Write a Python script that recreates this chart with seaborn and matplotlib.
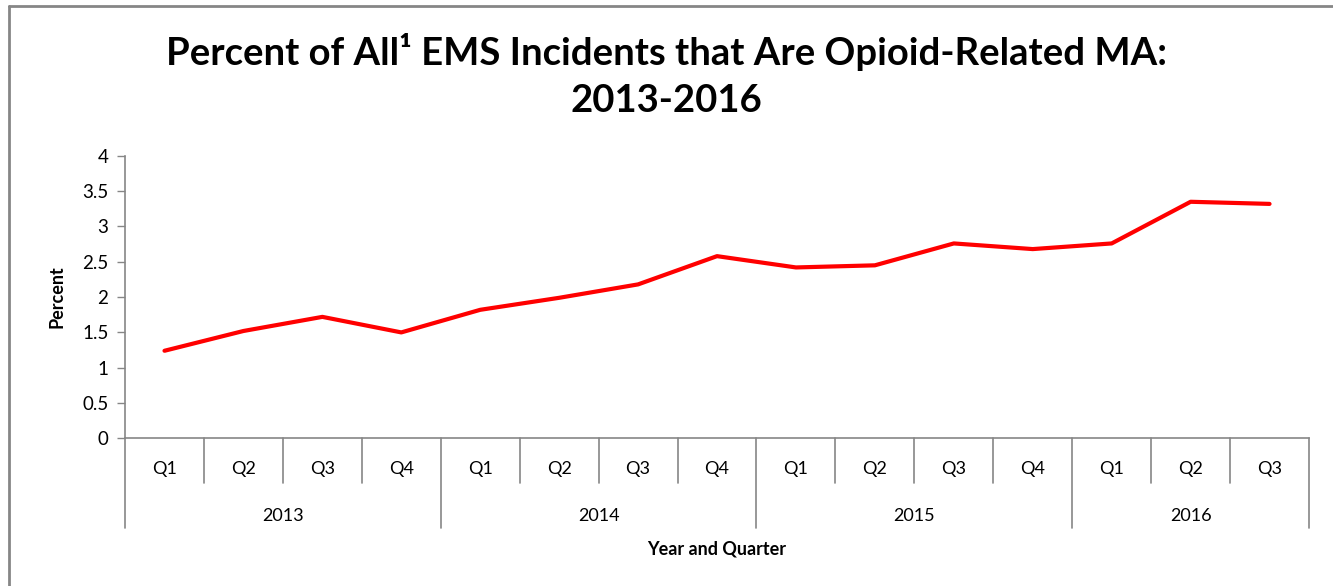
import numpy as np
import pandas as pd
import matplotlib
matplotlib.use("Agg")
import matplotlib.pyplot as plt
import matplotlib.transforms as mtransforms
from matplotlib.lines import Line2D
import seaborn as sns

# data
years = ["2013", "2014", "2015", "2016"]
quarters = ["Q1", "Q2", "Q3", "Q4", "Q1", "Q2", "Q3", "Q4",
            "Q1", "Q2", "Q3", "Q4", "Q1", "Q2", "Q3"]
quarter_years = ["2013"] * 4 + ["2014"] * 4 + ["2015"] * 4 + ["2016"] * 3
percent = [1.24, 1.52, 1.72, 1.50, 1.82, 1.99, 2.18, 2.58,
           2.42, 2.45, 2.76, 2.68, 2.76, 3.35, 3.32]
y_ticks = [0, 0.5, 1, 1.5, 2, 2.5, 3, 3.5, 4]

df = pd.DataFrame({"year": quarter_years, "quarter": quarters, "percent": percent})
df["pos"] = np.arange(len(df))

sns.set_style("white")
plt.rcParams["font.family"] = ["Lato", "DejaVu Sans"]
plt.rcParams["text.color"] = "black"
plt.rcParams["axes.labelcolor"] = "black"
plt.rcParams["ytick.color"] = "black"

fig = plt.figure(figsize=(13.33, 5.86), dpi=100)
ax = fig.add_axes([0.0938, 0.252, 0.8882, 0.482])

sns.lineplot(data=df, x="pos", y="percent", color="#FF0000", linewidth=3.0,
             ax=ax, solid_capstyle="round", solid_joinstyle="round")

grey = "#868686"
ax.set_xlim(-0.5, len(df) - 0.5)
ax.set_ylim(0, 4)
ax.set_yticks(y_ticks)
ax.set_yticklabels([f"{t:g}" for t in y_ticks], fontsize=13.5)
ax.set_xticks([])
ax.tick_params(axis="y", direction="out", length=6, width=1, color=grey,
               labelcolor="black", left=True, pad=6)
for side in ["top", "right"]:
    ax.spines[side].set_visible(False)
for side in ["left", "bottom"]:
    ax.spines[side].set_color(grey)
    ax.spines[side].set_linewidth(1.2)

ax.set_xlabel("")
ax.set_ylabel("Percent", fontsize=13, fontweight="bold", labelpad=12)

# two-level category axis
trans = mtransforms.blended_transform_factory(ax.transData, ax.transAxes)
year_edges = [-0.5]
for y in years:
    year_edges.append(year_edges[-1] + quarter_years.count(y))
for b in np.arange(-0.5, len(df), 1.0):
    low = -0.317 if b in year_edges else -0.158
    ax.add_line(Line2D([b, b], [0, low], transform=trans, color=grey,
                       linewidth=1.2, clip_on=False))
for i, q in enumerate(quarters):
    ax.text(i, -0.108, q, transform=trans, ha="center", va="center",
            fontsize=13, color="black")
for y, a, b in zip(years, year_edges[:-1], year_edges[1:]):
    ax.text((a + b) / 2, -0.275, y, transform=trans, ha="center", va="center",
            fontsize=13, color="black")
ax.text(0.5, -0.392, "Year and Quarter", transform=ax.transAxes, ha="center",
        va="center", fontsize=13, fontweight="bold")

fig.text(0.5, 0.912, "Percent of All\u00b9 EMS Incidents that Are Opioid-Related MA:",
         ha="center", va="center", fontsize=27.5, fontweight="bold",
         family=["Lato", "DejaVu Sans"])
fig.text(0.5, 0.828, "2013-2016", ha="center", va="center", fontsize=27.5,
         fontweight="bold")

# chart frame
fig.add_artist(Line2D([8.5 / 1333, 8.5 / 1333], [0, 1 - 5.5 / 586],
                      transform=fig.transFigure, color=grey, linewidth=2))
fig.add_artist(Line2D([8.5 / 1333, 1], [1 - 5.5 / 586, 1 - 5.5 / 586],
                      transform=fig.transFigure, color=grey, linewidth=2))

fig.savefig("out.png", dpi=100)
